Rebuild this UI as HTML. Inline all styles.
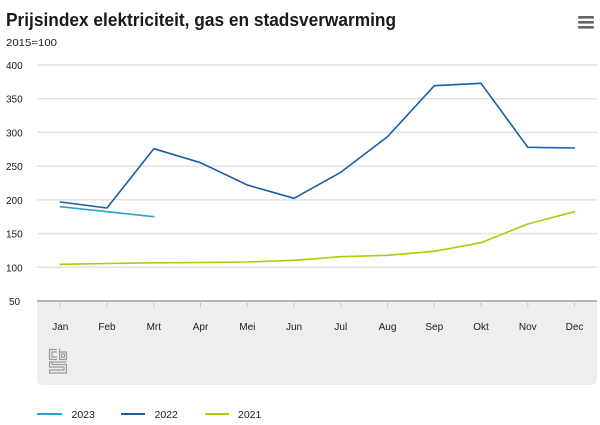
<!DOCTYPE html>
<html>
<head>
<meta charset="utf-8">
<style>
html,body{margin:0;padding:0;background:#fff;}
body{width:600px;height:425px;overflow:hidden;}
svg{display:block;font-family:"Liberation Sans","DejaVu Sans",sans-serif;}
</style>
</head>
<body>
<svg width="600" height="425" viewBox="0 0 600 425" xmlns="http://www.w3.org/2000/svg">
  <rect x="0" y="0" width="600" height="425" fill="#ffffff"/>
  <!-- Title -->
  <text x="6" y="26" font-size="18.5" font-weight="bold" fill="#1a1a1a" textLength="390" lengthAdjust="spacingAndGlyphs">Prijsindex elektriciteit, gas en stadsverwarming</text>
  <text x="6" y="46" font-size="10.5" fill="#222" textLength="51" lengthAdjust="spacingAndGlyphs">2015=100</text>
  <!-- menu icon -->
  <g fill="#666">
    <rect x="578" y="16" width="16" height="2.6" rx="1"/>
    <rect x="578" y="21" width="16" height="2.6" rx="1"/>
    <rect x="578" y="26" width="16" height="2.6" rx="1"/>
  </g>
  <!-- gray panel -->
  <rect x="37" y="301" width="560" height="84" rx="5" fill="#eeeeee"/>
  <rect x="37" y="301" width="560" height="6" fill="#eeeeee"/>
  <!-- gridlines -->
  <g stroke="#e3e3e3" stroke-width="1.5">
    <line x1="37" y1="65" x2="597" y2="65"/>
    <line x1="37" y1="98.7" x2="597" y2="98.7"/>
    <line x1="37" y1="132.4" x2="597" y2="132.4"/>
    <line x1="37" y1="166.2" x2="597" y2="166.2"/>
    <line x1="37" y1="199.9" x2="597" y2="199.9"/>
    <line x1="37" y1="233.6" x2="597" y2="233.6"/>
    <line x1="37" y1="267.3" x2="597" y2="267.3"/>
  </g>
  <line x1="37" y1="301" x2="597" y2="301" stroke="#707070" stroke-width="1"/>
  <!-- y labels -->
  <g font-size="10" fill="#1a1a1a">
    <text x="6" y="69">400</text>
    <text x="6" y="102.7">350</text>
    <text x="6" y="136.4">300</text>
    <text x="6" y="170.2">250</text>
    <text x="6" y="203.9">200</text>
    <text x="6" y="237.6">150</text>
    <text x="6" y="271.3">100</text>
    <text x="9" y="305">50</text>
  </g>
  <!-- ticks -->
  <g stroke="#c8c8c8" stroke-width="1">
    <line x1="60.3" y1="301" x2="60.3" y2="307"/>
    <line x1="107" y1="301" x2="107" y2="307"/>
    <line x1="153.8" y1="301" x2="153.8" y2="307"/>
    <line x1="200.5" y1="301" x2="200.5" y2="307"/>
    <line x1="247.3" y1="301" x2="247.3" y2="307"/>
    <line x1="294" y1="301" x2="294" y2="307"/>
    <line x1="340.8" y1="301" x2="340.8" y2="307"/>
    <line x1="387.5" y1="301" x2="387.5" y2="307"/>
    <line x1="434.3" y1="301" x2="434.3" y2="307"/>
    <line x1="481" y1="301" x2="481" y2="307"/>
    <line x1="527.8" y1="301" x2="527.8" y2="307"/>
    <line x1="574.5" y1="301" x2="574.5" y2="307"/>
  </g>
  <!-- x labels -->
  <g font-size="10" fill="#1a1a1a" text-anchor="middle">
    <text x="60.3" y="330">Jan</text>
    <text x="107" y="330">Feb</text>
    <text x="153.8" y="330">Mrt</text>
    <text x="200.5" y="330">Apr</text>
    <text x="247.3" y="330">Mei</text>
    <text x="294" y="330">Jun</text>
    <text x="340.8" y="330">Jul</text>
    <text x="387.5" y="330">Aug</text>
    <text x="434.3" y="330">Sep</text>
    <text x="481" y="330">Okt</text>
    <text x="527.8" y="330">Nov</text>
    <text x="574.5" y="330">Dec</text>
  </g>
  <!-- cbs logo -->
  <g fill="none" stroke="#9a9a9a" stroke-width="1.2">
    <path d="M57 349.5 H49.5 V359.5 H57"/>
    <path d="M57 352 H52 V357 H57"/>
    <path d="M59.5 348.5 V359.5 H66.5 V352 H59.5"/>
    <rect x="61.5" y="354" width="3" height="3.2"/>
    <path d="M66.5 362 H49.5 V367 H64 V370 H49.5 V373 H66.5 V364.5 H52 V362"/>
  </g>
  <!-- series -->
  <g fill="none" stroke-width="1.6" stroke-linejoin="round" stroke-linecap="round">
    <polyline stroke="#afcb05" points="60.3,264.3 107,263.5 153.8,262.8 200.5,262.5 247.3,262 294,260.3 340.8,256.7 387.5,255.3 434.3,251.3 481,242.7 527.8,224 574.5,211.7"/>
    <polyline stroke="#1a5ea6" points="60.3,202 107,208 153.8,148.7 200.5,162.7 247.3,185 294,198.3 340.8,172.3 387.5,136.7 434.3,85.7 481,83.3 527.8,147.3 574.5,148"/>
    <polyline stroke="#26a6cf" points="60.3,206.7 107,211.7 153.8,216.7"/>
  </g>
  <!-- legend -->
  <g stroke-width="2">
    <line x1="37" y1="414" x2="62" y2="414" stroke="#26a6cf"/>
    <line x1="121" y1="414" x2="145" y2="414" stroke="#1a5ea6"/>
    <line x1="205" y1="414" x2="229" y2="414" stroke="#afcb05"/>
  </g>
  <g font-size="10.5" fill="#1a1a1a">
    <text x="71.5" y="418">2023</text>
    <text x="154.5" y="418">2022</text>
    <text x="238" y="418">2021</text>
  </g>
</svg>
</body>
</html>
